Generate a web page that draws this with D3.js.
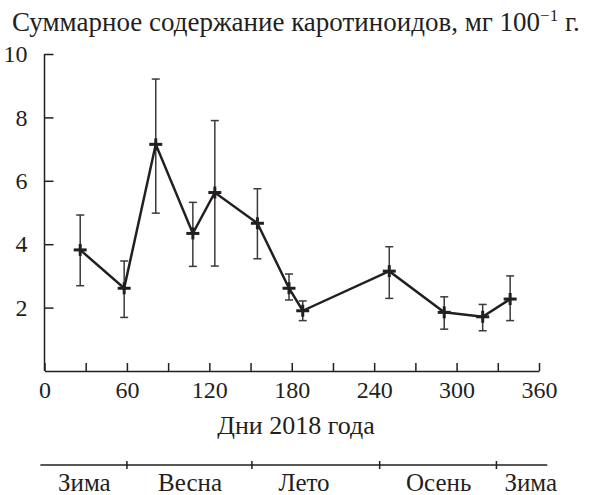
<!DOCTYPE html>
<html>
<head>
<meta charset="utf-8">
<script src="https://cdn.jsdelivr.net/npm/d3@7"></script>
<style>
  html, body { margin: 0; padding: 0; background: #fff; }
</style>
</head>
<body>
<svg id="chart" width="598" height="495"></svg>
<script>
// ---- data ----
const days   = [26, 58, 81, 108, 124, 155, 178, 188, 251, 291, 319, 339];
const values = [3.82, 2.61, 7.15, 4.34, 5.63, 4.66, 2.61, 1.90, 3.15, 1.85, 1.71, 2.27];
const upper  = [4.92, 3.47, 9.21, 5.32, 7.90, 5.75, 3.06, 2.21, 3.92, 2.34, 2.10, 3.00];
const lower  = [2.69, 1.69, 4.98, 3.30, 3.31, 3.54, 2.24, 1.59, 2.29, 1.32, 1.27, 1.59];
const xTicks = [0, 30, 60, 90, 120, 150, 180, 210, 240, 270, 300, 330, 360];
const xTickLabels = [0, 60, 120, 180, 240, 300, 360];
const yTicks = [2, 4, 6, 8, 10];
const seasonBounds = [60, 151, 244, 329];
const seasonRange = [-3, 366];
const seasonNames = ["Зима", "Весна", "Лето", "Осень", "Зима"];
const seasonLabelDays = [29, 106, 189, 287, 354];
const title = "Суммарное содержание каротиноидов, мг 100";
const xTitle = "Дни 2018 года";

const ink = "#231f20";
const FONT = "Liberation Serif, DejaVu Serif, serif";
const fs = 24;

const svg = d3.select("#chart");
const x = d3.scaleLinear().domain([0, 360]).range([44.5, 539]);
const y = d3.scaleLinear().domain([0, 10]).range([371, 54]);

function styleText(sel, size) {
  return sel.attr("font-family", FONT).attr("font-size", size).attr("fill", ink);
}

// title
const t = styleText(svg.append("text").attr("x", 12).attr("y", 31), 27);
t.append("tspan").text(title);
t.append("tspan").attr("dy", -10).attr("font-size", 17).text("−1");
t.append("tspan").attr("dy", 10).text(" г.");

// y axis
const yAxis = d3.axisLeft(y).tickValues(yTicks).tickSizeInner(-9).tickSizeOuter(0).tickPadding(17).tickFormat(d3.format("d"));
const gy = svg.append("g").attr("transform", `translate(${x(0)},0)`).call(yAxis);
gy.attr("font-family", FONT).attr("font-size", fs);
gy.select(".domain").attr("d", `M0,${y(10)}V${y(0)}`).attr("stroke", ink).attr("stroke-width", 1.5);
gy.selectAll(".tick line").attr("stroke", ink).attr("stroke-width", 1.5);
styleText(gy.selectAll(".tick text"), fs);

// x axis
const xAxis = d3.axisBottom(x).tickValues(xTicks).tickSizeInner(-8).tickSizeOuter(0).tickPadding(10)
  .tickFormat(d => xTickLabels.includes(d) ? d : "");
const gx = svg.append("g").attr("transform", `translate(0,${y(0)})`).call(xAxis);
gx.attr("font-family", FONT).attr("font-size", fs);
gx.select(".domain").attr("stroke", ink).attr("stroke-width", 1.5);
gx.selectAll(".tick line").attr("stroke", ink).attr("stroke-width", 1.5);
styleText(gx.selectAll(".tick text"), fs).attr("y", 27).attr("dy", 0);

styleText(svg.append("text").attr("x", 296).attr("y", 434).attr("text-anchor", "middle"), 26).text(xTitle);

// error bars
const data = days.map((d, i) => ({d, v: values[i], hi: upper[i], lo: lower[i]}));
const eb = svg.append("g").attr("stroke", "#3a3a3a").attr("stroke-width", 1.5).attr("fill", "none");
data.forEach(p => {
  const cx = x(p.d);
  eb.append("line").attr("x1", cx).attr("x2", cx).attr("y1", y(p.hi)).attr("y2", y(p.lo));
  eb.append("line").attr("x1", cx - 4).attr("x2", cx + 4).attr("y1", y(p.hi)).attr("y2", y(p.hi));
  eb.append("line").attr("x1", cx - 4).attr("x2", cx + 4).attr("y1", y(p.lo)).attr("y2", y(p.lo));
});

// line
svg.append("path").datum(data)
  .attr("d", d3.line().x(p => x(p.d)).y(p => y(p.v)))
  .attr("fill", "none").attr("stroke", ink).attr("stroke-width", 2.5).attr("stroke-linejoin", "miter");

// markers (+)
const mk = svg.append("g").attr("stroke", ink).attr("stroke-width", 3);
data.forEach(p => {
  const cx = x(p.d), cy = y(p.v);
  mk.append("line").attr("x1", cx - 6.5).attr("x2", cx + 6.5).attr("y1", cy).attr("y2", cy);
  mk.append("line").attr("x1", cx).attr("x2", cx).attr("y1", cy - 6).attr("y2", cy + 6);
});

// season bar
const sy = 465;
svg.append("line").attr("x1", x(seasonRange[0])).attr("x2", x(seasonRange[1])).attr("y1", sy).attr("y2", sy)
  .attr("stroke", ink).attr("stroke-width", 1.5);
seasonBounds.forEach(b => {
  svg.append("line").attr("x1", x(b)).attr("x2", x(b)).attr("y1", sy - 4).attr("y2", sy + 4).attr("stroke", ink).attr("stroke-width", 1.5);
});
seasonNames.forEach((n, i) => {
  styleText(svg.append("text").attr("x", x(seasonLabelDays[i])).attr("y", 491).attr("text-anchor", "middle"), 25).text(n);
});
</script>
</body>
</html>
